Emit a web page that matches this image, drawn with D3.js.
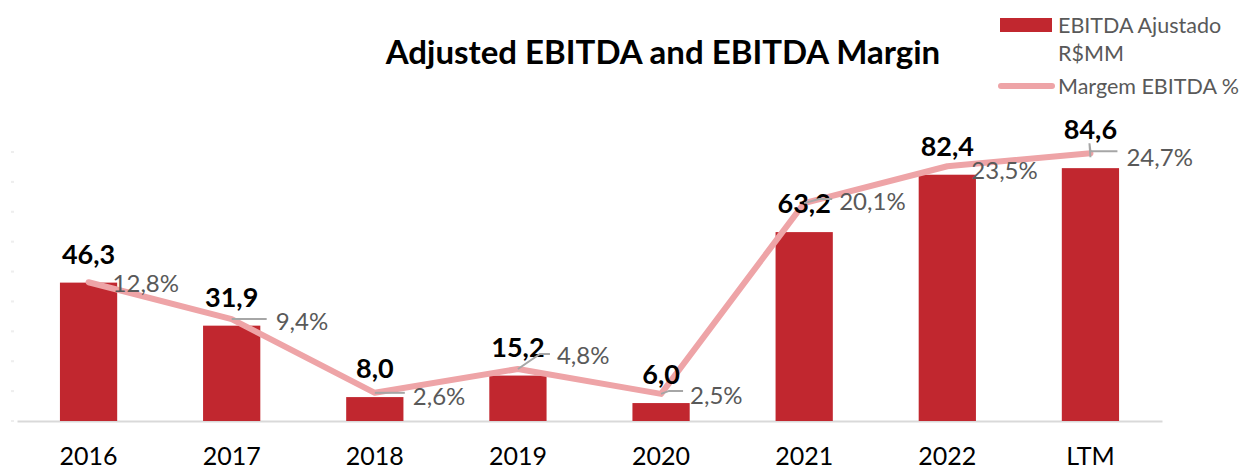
<!DOCTYPE html>
<html>
<head>
<meta charset="utf-8">
<script src="https://cdn.jsdelivr.net/npm/d3@7"></script>
<style>
  body { margin: 0; background: #fff; }
  text { font-family: Lato, "Open Sans", sans-serif; }
</style>
</head>
<body>
<div id="chart-area"></div>
<script>
// Data
var categories = ["2016", "2017", "2018", "2019", "2020", "2021", "2022", "LTM"];
var ebitda = [46.3, 31.9, 8.0, 15.2, 6.0, 63.2, 82.4, 84.6];
var margin = [12.8, 9.4, 2.6, 4.8, 2.5, 20.1, 23.5, 24.7];
var yTicks = [0, 10, 20, 30, 40, 50, 60, 70, 80, 90];

// label placement for the margin labels (dx, dy of text, leader points)
var mLabel = [
    { dx: 24, dy: 1, lead: null },
    { dx: 44, dy: 2, lead: [[0, 0], [35, 0]] },
    { dx: 38, dy: 4, lead: [[0, 0], [30, 0]] },
    { dx: 39, dy: -13, lead: [[0, 0], [22, -15], [32, -15]] },
    { dx: 29, dy: 2, lead: [[0, 0], [8, -3], [22, -3]] },
    { dx: 35, dy: -2, lead: [[0, 0], [15, -4], [28, -4]] },
    { dx: 24, dy: 4, lead: null },
    { dx: 36, dy: 4, lead: [[0, 4], [-1, -10], [0, -2], [27, -2]] }
];
// extra lift of the bar value labels
var barLift = [0, 0, 0, 0, 0, 0, 0, 10];

var W = 1241, H = 468;
var svg = d3.select("#chart-area")
    .append("svg")
        .attr("width", W)
        .attr("height", H);

// Scales
var x = d3.scaleBand()
    .domain(categories)
    .range([17, 1162])
    .paddingInner(0.6)
    .paddingOuter(0.3);
var y = d3.scaleLinear()
    .domain([0, 90])
    .range([421, 152]);
var y2 = d3.scaleLinear()
    .domain([0, 25])
    .range([421, 150]);

// Title
svg.append("text")
    .attr("x", 663)
    .attr("y", 64)
    .attr("text-anchor", "middle")
    .attr("font-size", "33px")
    .attr("font-weight", "bold")
    .attr("fill", "#000")
    .text("Adjusted EBITDA and EBITDA Margin");

// faint axis tick dots
svg.append("g").selectAll("rect")
    .data(yTicks)
    .enter().append("rect")
        .attr("x", 11)
        .attr("y", function(d){ return y(d) - 1; })
        .attr("width", 3)
        .attr("height", 2)
        .attr("fill", "#eeeeee");

// X Axis
var xAxisCall = d3.axisBottom(x).tickSize(0).tickPadding(26);
var xAxis = svg.append("g")
    .attr("transform", "translate(0," + y(0) + ")")
    .call(xAxisCall);
xAxis.select(".domain").attr("stroke", "#d9d9d9").attr("stroke-width", 2);
xAxis.selectAll("text")
    .attr("font-size", "25px")
    .attr("fill", "#000")
    .attr("font-family", "Lato, 'Open Sans', sans-serif");

// Bars
svg.append("g").selectAll("rect")
    .data(ebitda)
    .enter().append("rect")
        .attr("x", function(d, i){ return x(categories[i]); })
        .attr("y", function(d){ return y(d); })
        .attr("width", x.bandwidth())
        .attr("height", function(d){ return y(0) - y(d); })
        .attr("fill", "#c1272f");

// Line
var line = d3.line()
    .x(function(d, i){ return x(categories[i]) + x.bandwidth() / 2; })
    .y(function(d){ return y2(d); });
svg.append("path")
    .datum(margin)
    .attr("d", line)
    .attr("fill", "none")
    .attr("stroke", "#eea4a7")
    .attr("stroke-width", 6)
    .attr("stroke-linejoin", "round")
    .attr("stroke-linecap", "round");

// Bar labels
svg.append("g").selectAll("text")
    .data(ebitda)
    .enter().append("text")
        .attr("x", function(d, i){ return x(categories[i]) + x.bandwidth() / 2; })
        .attr("y", function(d, i){ return y(d) - 19 - barLift[i]; })
        .attr("text-anchor", "middle")
        .attr("font-size", "27px")
        .attr("font-weight", "bold")
        .attr("fill", "#000")
        .text(function(d){ return d3.format(".1f")(d).replace(".", ","); });

// Margin leaders and labels
var fmtPct = function(d){ return d3.format(".1f")(d).replace(".", ",") + "%"; };
var lg = svg.append("g");
margin.forEach(function(m, i){
    var px = x(categories[i]) + x.bandwidth() / 2, py = y2(m);
    var o = mLabel[i];
    if (o.lead) {
        lg.append("polyline")
            .attr("points", o.lead.map(function(p){ return (px + p[0]) + "," + (py + p[1]); }).join(" "))
            .attr("fill", "none")
            .attr("stroke", "#a6a6a6")
            .attr("stroke-width", 2);
    }
    lg.append("text")
        .attr("x", px + o.dx)
        .attr("y", py + o.dy)
        .attr("dy", "0.35em")
        .attr("font-size", "24px")
        .attr("fill", "#595959")
        .text(fmtPct(m));
});

// Legend
var legend = svg.append("g");
legend.append("rect")
    .attr("x", 1000).attr("y", 18)
    .attr("width", 52).attr("height", 14)
    .attr("fill", "#c1272f");
legend.append("text")
    .attr("x", 1058).attr("y", 33)
    .attr("font-size", "21.5px").attr("fill", "#595959")
    .text("EBITDA Ajustado");
legend.append("text")
    .attr("x", 1058).attr("y", 61)
    .attr("font-size", "21.5px").attr("fill", "#595959")
    .text("R$MM");
legend.append("line")
    .attr("x1", 1001).attr("x2", 1052)
    .attr("y1", 86).attr("y2", 86)
    .attr("stroke", "#eea4a7")
    .attr("stroke-width", 6)
    .attr("stroke-linecap", "round");
legend.append("text")
    .attr("x", 1058).attr("y", 94)
    .attr("font-size", "21.5px").attr("fill", "#595959")
    .text("Margem EBITDA %");
</script>
</body>
</html>
